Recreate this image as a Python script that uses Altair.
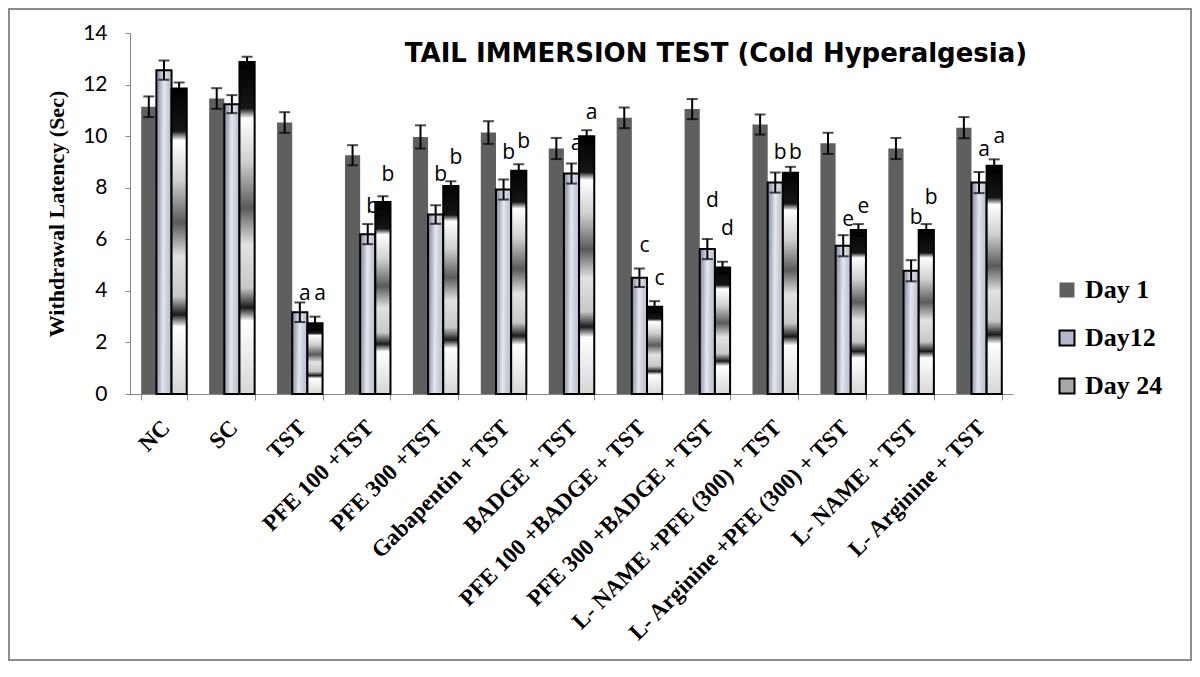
import altair as alt
import pandas as pd

groups = ["NC", "SC", "TST", "PFE 100 +TST", "PFE 300 +TST", "Gabapentin + TST",
          "BADGE + TST", "PFE 100 +BADGE + TST", "PFE 300 +BADGE + TST",
          "L- NAME +PFE (300) + TST", "L- Arginine +PFE (300) + TST",
          "L- NAME  + TST", "L- Arginine  + TST"]
days = ["Day 1", "Day12", "Day 24"]

day1 = [11.14, 11.46, 10.53, 9.26, 9.97, 10.14, 9.52, 10.71, 11.05, 10.45, 9.72, 9.52, 10.33]
day1_err = [0.40, 0.40, 0.40, 0.39, 0.45, 0.44, 0.41, 0.40, 0.39, 0.39, 0.41, 0.41, 0.41]
day12 = [12.56, 11.24, 3.17, 6.20, 6.96, 7.93, 8.55, 4.51, 5.62, 8.20, 5.75, 4.78, 8.20]
day12_err = [0.37, 0.35, 0.38, 0.39, 0.36, 0.39, 0.39, 0.36, 0.39, 0.39, 0.41, 0.41, 0.41]
day24 = [11.85, 12.88, 2.74, 7.45, 8.07, 8.66, 10.00, 3.38, 4.91, 8.58, 6.36, 6.36, 8.85]
day24_err = [0.23, 0.20, 0.26, 0.22, 0.18, 0.25, 0.23, 0.22, 0.22, 0.23, 0.23, 0.23, 0.25]

day12_letters = ["", "", "a", "b", "b", "b", "a", "c", "d", "b", "e", "b", "a"]
day12_letter_y = [0, 0, 3.88, 7.25, 8.49, 9.34, 9.69, 5.74, 7.48, 9.34, 6.74, 6.82, 9.46]
day24_letters = ["", "", "a", "b", "b", "b", "a", "c", "d", "b", "e", "b", "a"]
day24_letter_y = [0, 0, 3.88, 8.49, 9.15, 9.77, 10.89, 4.46, 6.40, 9.34, 7.25, 7.60, 9.96]

title_text = "TAIL IMMERSION TEST (Cold Hyperalgesia)"
y_title = "Withdrawal Latency (Sec)"

rows = []
for i, g in enumerate(groups):
    for d, vals, errs, lets, lys in [
        ("Day 1", day1, day1_err, [""] * 13, [0] * 13),
        ("Day12", day12, day12_err, day12_letters, day12_letter_y),
        ("Day 24", day24, day24_err, day24_letters, day24_letter_y),
    ]:
        rows.append({"group": g, "day": d, "value": vals[i],
                     "lo": vals[i] - errs[i], "hi": vals[i] + errs[i],
                     "letter": lets[i], "letter_y": lys[i]})
df = pd.DataFrame(rows)

W, H = 883, 361

x_axis = alt.Axis(title=None, labelAngle=-45, labelAlign="right", labelBaseline="top",
                  labelPadding=16, labelOffset=-6, tickBand="extent", tickSize=6, labelLimit=500,
                  labelOverlap=False, labelFont="Liberation Serif", labelFontWeight="bold",
                  labelFontSize=23, labelColor="#000", domainColor="#888", tickColor="#888")
y_axis = alt.Axis(values=[0, 2, 4, 6, 8, 10, 12, 14], grid=False, tickSize=5, labelPadding=18,
                  titlePadding=14, labelFont="Lato", labelFontSize=21, labelColor="#000",
                  titleFont="Liberation Serif", titleFontWeight="bold", titleFontSize=22,
                  titleColor="#000", domainColor="#888", tickColor="#888")
x_scale = alt.Scale(domain=groups, paddingInner=0.33, paddingOuter=0.165)
y_scale = alt.Scale(domain=[0, 14], nice=False)
off_scale = alt.Scale(domain=days, paddingInner=0, paddingOuter=0)


def X():
    return alt.X("group:N", sort=groups, scale=x_scale, axis=x_axis)


def XO():
    return alt.XOffset("day:N", scale=off_scale)


def Y(field):
    return alt.Y(f"{field}:Q", scale=y_scale, axis=y_axis, title=y_title)


grad12 = {"gradient": "linear", "x1": 0, "y1": 0, "x2": 1, "y2": 0.08,
          "stops": [{"offset": 0, "color": "#80879f"},
                    {"offset": 0.25, "color": "#aeb3c4"},
                    {"offset": 0.5, "color": "#e6e8ee"},
                    {"offset": 0.75, "color": "#cbcfda"},
                    {"offset": 1, "color": "#bcc0cd"}]}
grad24 = {"gradient": "linear", "x1": 0, "y1": 0, "x2": 0, "y2": 1,
          "stops": [{"offset": 0, "color": "#000000"},
                    {"offset": 0.14, "color": "#161616"},
                    {"offset": 0.17, "color": "#ffffff"},
                    {"offset": 0.30, "color": "#d0d0d0"},
                    {"offset": 0.44, "color": "#5a5a5a"},
                    {"offset": 0.55, "color": "#e2e2e2"},
                    {"offset": 0.68, "color": "#c8c8c8"},
                    {"offset": 0.74, "color": "#1a1a1a"},
                    {"offset": 0.78, "color": "#ffffff"},
                    {"offset": 1, "color": "#d6d6d6"}]}

base = alt.Chart(df)

legend = alt.Legend(title=None, orient="none", legendX=924, legendY=244,
                    labelFont="Liberation Serif", labelFontWeight="bold", labelFontSize=26,
                    labelColor="#000", symbolType="square", symbolSize=225,
                    symbolStrokeWidth=2, rowPadding=22, labelOffset=5, labelLimit=300)

frame = alt.Chart(alt.Data(values=[{"k": 1}])).mark_rect(
    fill="transparent", stroke="#8c8c8c", strokeWidth=2, clip=False
).encode(x=alt.value(-121), x2=alt.value(1061), y=alt.value(-24), y2=alt.value(627))

bars1 = base.transform_filter(alt.datum.day == "Day 1").mark_bar(strokeWidth=2).encode(
    x=X(), xOffset=XO(), y=Y("value"),
    fill=alt.Fill("day:N", scale=alt.Scale(domain=days, range=["#5f5f5f", "#b4b8c8", "#a8a8a8"]),
                  legend=legend),
    stroke=alt.Stroke("day:N", scale=alt.Scale(domain=days, range=["transparent", "#000000", "#000000"]),
                      legend=legend),
)
bars12 = base.transform_filter(alt.datum.day == "Day12").mark_bar(
    fill=grad12, stroke="#000", strokeWidth=2).encode(x=X(), xOffset=XO(), y=Y("value"))
bars24 = base.transform_filter(alt.datum.day == "Day 24").mark_bar(
    fill=grad24, stroke="#000", strokeWidth=2).encode(x=X(), xOffset=XO(), y=Y("value"))

rules = base.mark_rule(color="#000", strokeWidth=2).encode(
    x=X(), xOffset=XO(), y=Y("lo"), y2="hi:Q")
caps_hi = base.mark_tick(color="#000", size=11, thickness=2).encode(
    x=X(), xOffset=XO(), y=Y("hi"))
caps_lo = base.mark_tick(color="#000", size=11, thickness=2).encode(
    x=X(), xOffset=XO(), y=Y("lo"))

letters = base.transform_filter(alt.datum.letter != "").mark_text(
    font="Open Sans", fontSize=21, dx=5, baseline="middle", color="#000").encode(
    x=X(), xOffset=XO(), y=Y("letter_y"), text="letter:N")

title = alt.Chart(alt.Data(values=[{"k": 1}])).mark_text(
    font="DejaVu Sans", fontWeight="bold", fontSize=26, align="center",
    baseline="alphabetic", color="#000").encode(
    x=alt.value(586), y=alt.value(29), text=alt.value(title_text))

chart = alt.layer(frame, bars1, bars12, bars24, rules, caps_hi, caps_lo, letters, title).properties(
    width=W, height=H,
    autosize=alt.AutoSizeParams(type="none"),
    padding={"left": 122, "top": 25, "right": 179, "bottom": 267},
    background="white",
).configure_view(stroke=None)

chart.save("out.html", embed_options={"renderer": "svg", "actions": False})
